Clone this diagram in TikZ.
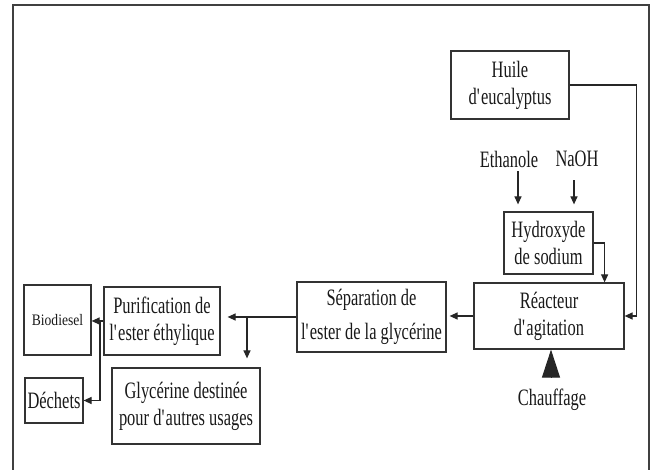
\documentclass[tikz,border=0pt]{standalone}
\usepackage{fontspec}
\setmainfont{Liberation Serif}[FakeStretch=0.70]
\newfontfamily\plainfont{Liberation Serif}[FakeStretch=0.85]
\usetikzlibrary{arrows.meta}
\newcommand{\q}{\textquotesingle}
\tikzset{
    every node/.style={
        inner sep=0pt,
        align=center,
        text=black!90,
        font=\fontsize{23.5}{27}\selectfont},
    box/.style={
        draw=black!80,
        line width=1.2pt},
    flow/.style={
        draw=black!85,
        line width=1.2pt,
        -{Triangle[length=8pt,width=7pt]}}}

\begin{document}
\begin{tikzpicture}[x=1pt,y=-1pt]
    \useasboundingbox (0,0) rectangle (654,470);
    \draw[line width=2pt, black!75] (13,5) rectangle (649,476);

    \node[box, minimum width=118pt, minimum height=68pt] (huile) at (510,85) {Huile\\d\q eucalyptus};
    \node (ethanol) at (509,159) {Ethanole};
    \node (naoh) at (577,159) {NaOH};
    \node[box, minimum width=89pt, minimum height=62pt] (hydro) at (548.5,243) {Hydroxyde\\de sodium};
    \node[box, minimum width=150pt, minimum height=66pt] (reacteur) at (549,316) {R\'eacteur\\d\q agitation};
    \node (chauffage) at (552,400) {Chauffage};
    \coordinate (heat) at (551,378);
    \node[box, minimum width=149pt, minimum height=70pt] (sep) at (371.5,317) {S\'eparation de\\[7pt]l\q ester de la glyc\'erine};
    \node[box, minimum width=116pt, minimum height=68pt] (purif) at (162,321) {Purification de\\l\q ester \'ethylique};
    \node[box, minimum width=148pt, minimum height=76pt] (glyc) at (186,406) {Glyc\'erine destin\'ee\\pour d\q autres usages};
    \node[box, minimum width=67pt, minimum height=70pt, font=\plainfont\fontsize{16}{18}\selectfont] (bio) at (57.5,320) {Biodiesel};
    \node[box, minimum width=58pt, minimum height=45pt] (dechets) at (54,400.5) {D\'echets};

    % inputs of the reactor
    \draw[flow, shorten <=4pt, shorten >=7pt] ([xshift=9pt]ethanol.south) -- ([xshift=9pt]ethanol.south |- hydro.north);
    \draw[flow, shorten <=13pt, shorten >=7pt] ([xshift=-3pt]naoh.south) -- ([xshift=-3pt]naoh.south |- hydro.north);
    \coordinate (hk) at ([xshift=11pt]hydro.east);
    \draw[flow] (hydro.east) -- (hk) -- (hk |- reacteur.north);
    \draw[flow] (huile.east) -- ++(67,0) |- (reacteur.east);
    \draw[draw=black!85, line width=1pt, -{Triangle[length=28pt,width=18pt]}] (heat) -- (heat |- reacteur.south);

    % separation and outputs
    \draw[flow, shorten >=3pt] (reacteur.west) -- (reacteur.west -| sep.east);
    \draw[flow, shorten >=7pt] (sep.west) -- (sep.west -| purif.east);
    \coordinate (gk) at (247,317);
    \draw[flow, shorten >=9pt] (gk) -- (gk |- glyc.north);
    \draw[flow] (purif.west) -- (purif.west -| bio.east);
    \coordinate (dk) at (100,321);
    \draw[flow] (dk) |- (dechets.east);
\end{tikzpicture}
\end{document}
